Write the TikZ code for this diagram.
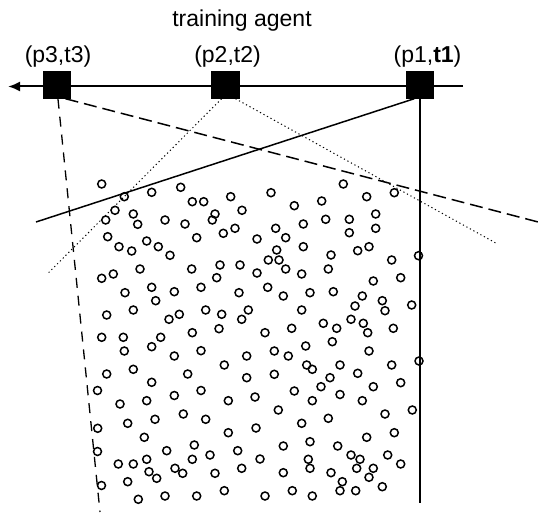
\documentclass[tikz,border=0pt]{standalone}
\usepackage{fontspec}
\setmainfont{Liberation Sans}
\usetikzlibrary{arrows.meta}
\begin{document}
\begin{tikzpicture}[x=1pt,y=-1pt,
  sq/.style={draw,fill=black,minimum size=27.5pt,inner sep=0pt,line width=0pt},
  lbl/.style={font=\fontsize{23}{27}\selectfont,inner sep=0pt},
  axisline/.style={line width=2pt},
  solidline/.style={line width=1.5pt},
  longdash/.style={line width=1.5pt,dash pattern=on 13pt off 6pt},
  curvedash/.style={line width=1.3pt,dash pattern=on 10pt off 8pt},
  dotline/.style={line width=1pt,dash pattern=on 1.2pt off 2.8pt},
  pt/.style={line width=1.5pt}]
\useasboundingbox (0,0) rectangle (543,516);

% circles (data points)
\foreach \x/\y in {
101.7/184,124.3/196.7,151.7/192.3,180.7/187.3,192.3/201.7,203.7/201.7,230.7/196.7,242/210.3,
115/210.3,105.7/220,133.3/214,137.7/224.3,165/220,185/224,215/214,212.3/220,235/228.3,223.3/233.3,
107.7/236.7,119/246.7,131.7/251,146.7/241,158.3/246.7,170/255.3,196.7/237.7,220/265,240/265,
191.7/269,140/269,113.3/274,101.7/278.3,216.7/277.7,257/239,257/273,
271/192.7,343.3/184,366.7/196.7,394.3/192.7,294.3/205.7,321.7/201,303.3/224,325.7/219.3,
349.3/219.3,349.3/232.7,375.7/214,375.7/228.3,275.7/228.3,285.7/237.7,303.3/246.7,276.7/250,
268.3/260,279/260,285.7/269,301.7/274,331/255,328.3/269,357.7/250.7,369/246.7,391.7/260,
418.5/255.7,373.3/281,400.7/277.7,
125/292.7,151.7/287.3,155.7/300.7,174.3/291.7,201/287.3,239/292.7,106.7/315,133.3/310,169/319.3,
179.3/314.3,205.7/310,221.7/314.3,219/328.7,241.7/319.3,248.3/310,101.7/337.3,123.3/337.3,
151.7/346.7,160.7/337.3,192.3/332.7,124.3/351,174.3/356,201/350.7,246.7/356,224.3/365,
106.7/374,133.3/369.3,187.7/374,246.7/377.7,151.7/382.3,97.5/390.5,201/390.5,
267.7/287.3,283.3/296,310/292.7,333.3/291.7,362.3/296,355/306,382.3/300.7,385/310.7,411.7/305,
301.7/310,351/319.3,323.3/323.3,336.7/328.3,363.3/323.3,367.7/332.7,393.3/328.3,265/332.7,
291.7/328.3,332.3/341.7,305.7/346,274.3/351,288.3/356,369/351,419/361,306.7/365,312.3/369.3,
340/365,391.7/365,274.3/374.3,330/377.7,357.7/373.3,400.7/382.7,321/386.7,294.3/391,373.3/386.7,
340/394.5,
120/404,146.7/400.7,174.3/395.5,228.3/400.7,97.7/428.3,127.7/423.3,155/419.3,183.3/414,205.7/419.3,
228.3/432.7,144.3/437.3,97.5/451.5,166.7/450.7,194.3/445,192.3/459.3,210/455,237.7/450.7,
118.3/464,133.3/464,146.7/459.3,149/471.7,156.7/478.3,175/468.3,182.7/473.3,215/473.3,
241.7/468.3,127.7/481.7,101.5/485.5,138.3/499.3,165/496,196.7/496,224.3/490.7,
255/397,312.3/400.7,362.3/400.7,278.3/410,328.3/418.3,301.7/423.3,256/428,385/414,412.3/410,
394.3/432.7,366.7/437.3,283.3/446,310/441.7,337.7/446,260/459,308.3/459.3,310/468.3,351/455,
360/459.3,387.7/455,400.7/464,283.3/472.7,331/472.7,356.7/468.3,373.3/468.3,342.3/481.7,
369/477.3,382.3/486.7,292.3/490.7,312.3/496,340/490.7,355.7/490.7,265/496}
  \draw[pt] (\x,\y) circle (4);

% free ends of connectors
\coordinate (lend) at (8,86.5);
\coordinate (rend) at (463,86.5);
\coordinate (e1) at (36,222);
\coordinate (e1v) at (420,503);
\coordinate (e3) at (542,223);
\coordinate (e3v) at (100,512);
\coordinate (e2l) at (46.7,274.6);
\coordinate (e2r) at (497,243.7);

% axis
\draw[axisline,-{Latex[length=12pt,width=10pt]}] (rend) -- (lend);

% agents
\node[sq] (s3) at (57,85) {};
\node[sq] (s2) at (225.5,85) {};
\node[sq] (s1) at (420,85) {};

% labels
\node[lbl] (title) at (242,21) {training agent};
\node[lbl] (l3) at (58,57) {(p3,t3)};
\node[lbl] (l2) at (227.5,57) {(p2,t2)};
\node[lbl] (l1) at (427.5,57) {(p1,\textbf{t1})};

% connectors
\draw[solidline] (s1.-113) -- (e1);
\draw[solidline] (s1.south) -- (e1v);
\draw[longdash] (s3.-58) -- (e3);
\draw[curvedash] (s3.-86) -- (e3v);
\draw[dotline] (s2.-106) -- (e2l);
\draw[dotline] (s2.-54) -- (e2r);
\end{tikzpicture}
\end{document}
